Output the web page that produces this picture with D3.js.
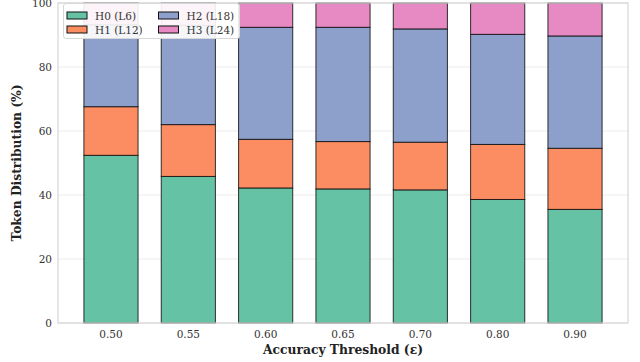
<!DOCTYPE html>
<html>
<head>
<meta charset="utf-8">
<script src="https://cdn.jsdelivr.net/npm/d3@7"></script>
<style>
  html, body { margin: 0; padding: 0; background: #fff; }
  svg { display: block; font-family: "DejaVu Serif", serif; }
</style>
</head>
<body>
<svg id="chart" width="640" height="362"></svg>
<script>
// Accuracy thresholds on the x axis
const thresholds = ["0.50", "0.55", "0.60", "0.65", "0.70", "0.80", "0.90"];
// Share of tokens (%) exiting at each head
const h0 = [52.4, 45.8, 42.2, 41.9, 41.6, 38.6, 35.5];
const h1 = [15.2, 16.2, 15.2, 14.8, 14.9, 17.2, 19.1];
const h2 = [25.6, 31.0, 35.0, 35.7, 35.4, 34.4, 35.1];
const h3 = [6.8, 7.0, 7.6, 7.6, 8.1, 9.8, 10.3];
const seriesNames = ["H0 (L6)", "H1 (L12)", "H2 (L18)", "H3 (L24)"];
const seriesColors = ["#66c2a5", "#fc8d62", "#8da0cb", "#e78ac3"];
const yTicks = [0, 20, 40, 60, 80, 100];

const svg = d3.select("#chart");
const plot = { left: 58, right: 628, top: 3, bottom: 323 };

const rows = thresholds.map((t, i) => ({ t, s0: h0[i], s1: h1[i], s2: h2[i], s3: h3[i] }));
const stack = d3.stack().keys(["s0", "s1", "s2", "s3"])(rows);

// Bars of width 0.7 with 5% padding on each side, as a band scale
const n = thresholds.length;
const span = (n - 1) + 0.7;
const pad = 0.05 * span;
const unit = (plot.right - plot.left) / (span + 2 * pad);
const x = d3.scaleBand().domain(thresholds)
  .range([plot.left + (pad + 0.35 - 0.5) * unit, plot.right - (pad + 0.35 - 0.5) * unit])
  .paddingInner(0.3).paddingOuter(0.15);
const y = d3.scaleLinear().domain([0, 100]).range([plot.bottom, plot.top]);

// Grid
svg.append("g").selectAll("line").data(yTicks).join("line")
  .attr("x1", plot.left).attr("x2", plot.right)
  .attr("y1", d => y(d)).attr("y2", d => y(d))
  .attr("stroke", "#ebebeb").attr("stroke-width", 1);

// Stacked bars
svg.append("g").selectAll("g").data(stack).join("g")
  .attr("fill", (d, i) => seriesColors[i])
  .selectAll("rect").data(d => d).join("rect")
  .attr("x", d => x(d.data.t))
  .attr("width", x.bandwidth())
  .attr("y", d => y(d[1]))
  .attr("height", d => y(d[0]) - y(d[1]))
  .attr("stroke", "#111").attr("stroke-width", 1).attr("stroke-opacity", 0.85);

// Frame
svg.append("rect").attr("x", plot.left).attr("y", plot.top)
  .attr("width", plot.right - plot.left).attr("height", plot.bottom - plot.top)
  .attr("fill", "none").attr("stroke", "#d6d6d6").attr("stroke-width", 1.2);

// Axes
const xAxis = svg.append("g").attr("transform", `translate(0,${plot.bottom})`)
  .call(d3.axisBottom(x).tickSize(0).tickPadding(8));
xAxis.select(".domain").remove();
xAxis.selectAll("text").attr("font-size", 10.5).attr("fill", "#333").attr("font-family", "DejaVu Serif");

const yAxis = svg.append("g").attr("transform", `translate(${plot.left},0)`)
  .call(d3.axisLeft(y).tickValues(yTicks).tickSize(0).tickPadding(6));
yAxis.select(".domain").remove();
yAxis.selectAll("text").attr("font-size", 10.5).attr("fill", "#333").attr("font-family", "DejaVu Serif");

// Axis titles
svg.append("text").attr("x", (plot.left + plot.right) / 2).attr("y", 354)
  .attr("text-anchor", "middle").attr("font-size", 12.3).attr("font-weight", "bold")
  .attr("fill", "#222").text("Accuracy Threshold (ε)");
svg.append("text").attr("transform", `translate(21,${(plot.top + plot.bottom) / 2}) rotate(-90)`)
  .attr("text-anchor", "middle").attr("font-size", 12.3).attr("font-weight", "bold")
  .attr("fill", "#222").text("Token Distribution (%)");

// Legend
const lg = svg.append("g");
lg.append("rect").attr("x", 63.5).attr("y", 3.5).attr("width", 176).attr("height", 35)
  .attr("rx", 2.5).attr("fill", "#fff").attr("fill-opacity", 0.9)
  .attr("stroke", "#d8d8d8").attr("stroke-width", 1);
seriesNames.forEach((name, i) => {
  const col = Math.floor(i / 2), row = i % 2;
  const sx = 67 + col * 91.5, sy = 12 + row * 14;
  lg.append("rect").attr("x", sx).attr("y", sy).attr("width", 20).attr("height", 7)
    .attr("fill", seriesColors[i]).attr("stroke", "#111").attr("stroke-width", 1);
  lg.append("text").attr("x", sx + 28).attr("y", sy + 7.5)
    .attr("font-size", 10.5).attr("fill", "#333").text(name);
});
</script>
</body>
</html>
